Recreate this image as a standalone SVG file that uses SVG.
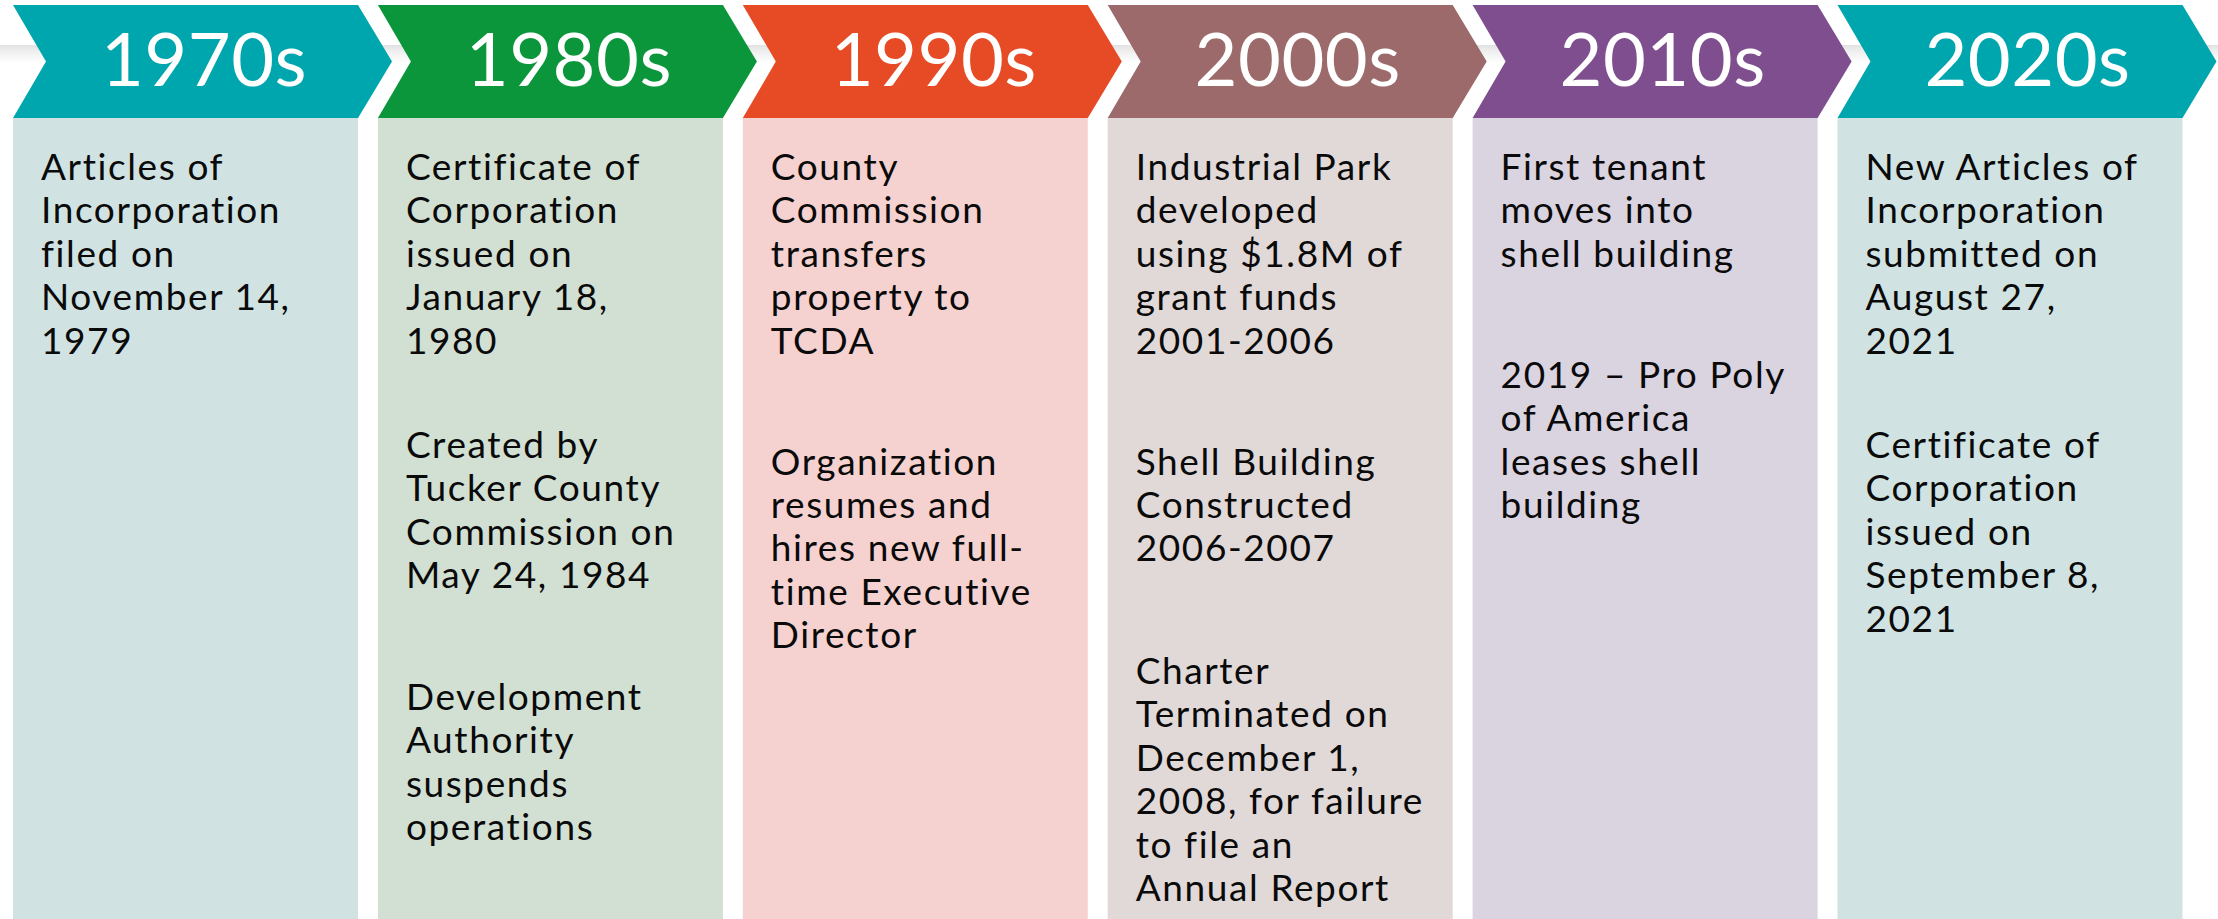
<svg xmlns="http://www.w3.org/2000/svg" width="2218" height="919" viewBox="0 0 2218 919">
  <defs>
    <linearGradient id="band" x1="0" y1="0" x2="0" y2="1">
      <stop offset="0" stop-color="#e2e2e2"/>
      <stop offset="0.35" stop-color="#efefef"/>
      <stop offset="1" stop-color="#ffffff"/>
    </linearGradient>
    <!-- decade arrow header, drawn at the column origin -->
    <polygon id="chev" points="0,5 345,5 379,61.5 345,118 0,118 33,61.5"/>
  </defs>
  <style>
    .head { font-family: Lato, "Open Sans", sans-serif; font-weight: 400; font-size: 74px; letter-spacing: 0.5px; fill: #ffffff; text-anchor: middle; }
    .body { font-family: Lato, "Open Sans", sans-serif; font-weight: 400; font-size: 37px; letter-spacing: 1.6px; fill: #0a0a0a; }
    .teal { fill: #00a6ae; } .teal-l { fill: #d0e3e2; }
    .green { fill: #0b963b; } .green-l { fill: #d2e0d3; }
    .red { fill: #e64b25; } .red-l { fill: #f5d2d0; }
    .brown { fill: #9c6a6a; } .brown-l { fill: #e1d9d8; }
    .purple { fill: #7f4e8e; } .purple-l { fill: #dad3e0; }
  </style>

  <rect width="2218" height="919" fill="#ffffff"/>
  <!-- soft horizontal rule running behind the headers -->
  <rect x="0" y="45" width="2218" height="18" fill="url(#band)"/>

  <g id="connectors"/>

  <g id="d1970s" transform="translate(13,0)">
    <rect class="teal-l" x="0" y="118" width="345" height="801"/>
    <use href="#chev" class="teal"/>
    <text class="head" x="191" y="86">1970s</text>
    <text class="body">
      <tspan x="28" y="180">Articles of</tspan>
      <tspan x="28" y="223.4">Incorporation</tspan>
      <tspan x="28" y="266.8">filed on</tspan>
      <tspan x="28" y="310.2">November 14,</tspan>
      <tspan x="28" y="353.6">1979</tspan>
    </text>
  </g>

  <g id="d1980s" transform="translate(377.9,0)">
    <rect class="green-l" x="0" y="118" width="345" height="801"/>
    <use href="#chev" class="green"/>
    <text class="head" x="191" y="86">1980s</text>
    <text class="body">
      <tspan x="28" y="180">Certificate of</tspan>
      <tspan x="28" y="223.4">Corporation</tspan>
      <tspan x="28" y="266.8">issued on</tspan>
      <tspan x="28" y="310.2">January 18,</tspan>
      <tspan x="28" y="353.6">1980</tspan>
      <tspan x="28" y="458">Created by</tspan>
      <tspan x="28" y="501.4">Tucker County</tspan>
      <tspan x="28" y="544.8">Commission on</tspan>
      <tspan x="28" y="588.2">May 24, 1984</tspan>
      <tspan x="28" y="710">Development</tspan>
      <tspan x="28" y="753.4">Authority</tspan>
      <tspan x="28" y="796.8">suspends</tspan>
      <tspan x="28" y="840.2">operations</tspan>
    </text>
  </g>

  <g id="d1990s" transform="translate(742.8,0)">
    <rect class="red-l" x="0" y="118" width="345" height="801"/>
    <use href="#chev" class="red"/>
    <text class="head" x="191" y="86">1990s</text>
    <text class="body">
      <tspan x="28" y="180">County</tspan>
      <tspan x="28" y="223.4">Commission</tspan>
      <tspan x="28" y="266.8">transfers</tspan>
      <tspan x="28" y="310.2">property to</tspan>
      <tspan x="28" y="353.6">TCDA</tspan>
      <tspan x="28" y="474.6">Organization</tspan>
      <tspan x="28" y="518">resumes and</tspan>
      <tspan x="28" y="561.4">hires new full-</tspan>
      <tspan x="28" y="604.8">time Executive</tspan>
      <tspan x="28" y="648.2">Director</tspan>
    </text>
  </g>

  <g id="d2000s" transform="translate(1107.7,0)">
    <rect class="brown-l" x="0" y="118" width="345" height="801"/>
    <use href="#chev" class="brown"/>
    <text class="head" x="190" y="86">2000s</text>
    <text class="body">
      <tspan x="28" y="180">Industrial Park</tspan>
      <tspan x="28" y="223.4">developed</tspan>
      <tspan x="28" y="266.8">using $1.8M of</tspan>
      <tspan x="28" y="310.2">grant funds</tspan>
      <tspan x="28" y="353.6">2001-2006</tspan>
      <tspan x="28" y="474.6">Shell Building</tspan>
      <tspan x="28" y="518">Constructed</tspan>
      <tspan x="28" y="561.4">2006-2007</tspan>
      <tspan x="28" y="684">Charter</tspan>
      <tspan x="28" y="727.4">Terminated on</tspan>
      <tspan x="28" y="770.8">December 1,</tspan>
      <tspan x="28" y="814.2">2008, for failure</tspan>
      <tspan x="28" y="857.6">to file an</tspan>
      <tspan x="28" y="901">Annual Report</tspan>
    </text>
  </g>

  <g id="d2010s" transform="translate(1472.6,0)">
    <rect class="purple-l" x="0" y="118" width="345" height="801"/>
    <use href="#chev" class="purple"/>
    <text class="head" x="190" y="86">2010s</text>
    <text class="body">
      <tspan x="28" y="180">First tenant</tspan>
      <tspan x="28" y="223.4">moves into</tspan>
      <tspan x="28" y="266.8">shell building</tspan>
      <tspan x="28" y="388">2019 – Pro Poly</tspan>
      <tspan x="28" y="431.4">of America</tspan>
      <tspan x="28" y="474.8">leases shell</tspan>
      <tspan x="28" y="518.2">building</tspan>
    </text>
  </g>

  <g id="d2020s" transform="translate(1837.5,0)">
    <rect class="teal-l" x="0" y="118" width="345" height="801"/>
    <use href="#chev" class="teal"/>
    <text class="head" x="190" y="86">2020s</text>
    <text class="body">
      <tspan x="28" y="180">New Articles of</tspan>
      <tspan x="28" y="223.4">Incorporation</tspan>
      <tspan x="28" y="266.8">submitted on</tspan>
      <tspan x="28" y="310.2">August 27,</tspan>
      <tspan x="28" y="353.6">2021</tspan>
      <tspan x="28" y="458">Certificate of</tspan>
      <tspan x="28" y="501.4">Corporation</tspan>
      <tspan x="28" y="544.8">issued on</tspan>
      <tspan x="28" y="588.2">September 8,</tspan>
      <tspan x="28" y="631.6">2021</tspan>
    </text>
  </g>
</svg>
